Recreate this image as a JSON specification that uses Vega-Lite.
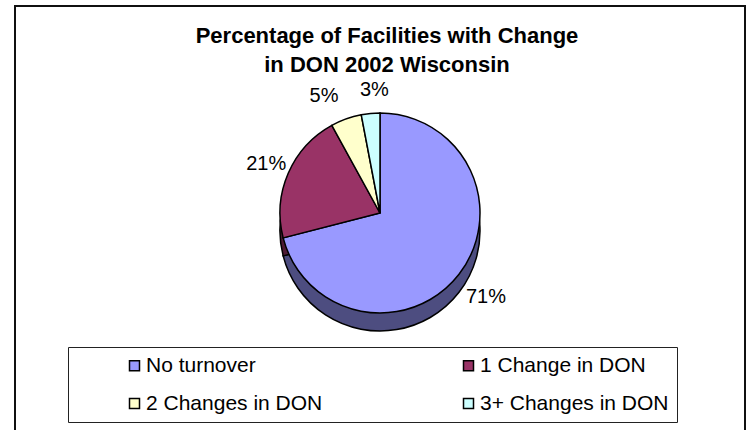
{
  "$schema": "https://vega.github.io/schema/vega-lite/v6.json",
  "width": 730,
  "height": 434,
  "autosize": {"type": "none"},
  "padding": {"left": 15, "top": 6, "right": 8, "bottom": -10},
  "background": "white",
  "config": {"font": "Liberation Sans"},
  "view": {"stroke": "#111", "strokeWidth": 1.5},
  "title": {
    "text": ["Percentage of Facilities with Change", "in DON 2002 Wisconsin"],
    "font": "Liberation Sans",
    "fontSize": 22,
    "fontWeight": "bold",
    "color": "#000",
    "anchor": "middle",
    "frame": "group",
    "baseline": "alphabetic",
    "offset": -89,
    "lineHeight": 29,
    "dx": 7
  },
  "data": {
    "values": [
      {"category": "No turnover", "share": 0.71, "order": 1},
      {"category": "1 Change in DON", "share": 0.21, "order": 2},
      {"category": "2 Changes in DON", "share": 0.05, "order": 3},
      {"category": "3+ Changes in DON", "share": 0.03, "order": 4}
    ]
  },
  "layer": [
    {
      "mark": {"type": "rect", "fill": null, "fillOpacity": 0, "stroke": "#111", "strokeWidth": 1.5},
      "encoding": {}
    },
    {
      "mark": {"type": "arc", "radius": 100, "yOffset": 8, "stroke": "#000", "strokeWidth": 1.5},
      "encoding": {
        "theta": {"field": "share", "type": "quantitative", "stack": true},
        "order": {"field": "order", "type": "quantitative"},
        "color": {
          "field": "category",
          "type": "nominal",
          "scale": {
            "domain": ["No turnover", "1 Change in DON", "2 Changes in DON", "3+ Changes in DON"],
            "range": ["#4D4D80", "#4D1A33", "#808066", "#668080"]
          },
          "legend": null
        }
      }
    },
    {
      "mark": {"type": "arc", "radius": 100, "yOffset": -10, "stroke": "#000", "strokeWidth": 1.5},
      "encoding": {
        "theta": {"field": "share", "type": "quantitative", "stack": true},
        "order": {"field": "order", "type": "quantitative"},
        "color": {
          "field": "category",
          "type": "nominal",
          "scale": {
            "domain": ["No turnover", "1 Change in DON", "2 Changes in DON", "3+ Changes in DON"],
            "range": ["#9999FF", "#993366", "#FFFFCC", "#CCFFFF"]
          },
          "legend": {
            "orient": "none",
            "legendX": 53,
            "legendY": 341,
            "direction": "horizontal",
            "columns": 2,
            "columnPadding": 135,
            "rowPadding": 16,
            "padding": 8,
            "fillColor": "#fff",
            "strokeColor": "#222",
            "title": " ",
            "titleOrient": "left",
            "titleFontSize": 1,
            "titlePadding": 48,
            "symbolType": "square",
            "symbolSize": 100,
            "symbolStrokeColor": "#000",
            "symbolStrokeWidth": 1.5,
            "symbolOpacity": 1,
            "labelFont": "Liberation Sans",
            "labelFontSize": 21,
            "labelColor": "#000",
            "labelOffset": 1,
            "labelLimit": 500
          }
        }
      }
    },
    {
      "mark": {
        "type": "text",
        "radius": 124,
        "yOffset": -10,
        "font": "Liberation Sans",
        "fontSize": 20,
        "color": "#000",
        "dx": {"expr": "datum.order == 3 ? -14 : datum.order == 4 ? 6 : datum.order == 1 ? 8 : 0"},
        "dy": {"expr": "datum.order == 1 ? 8 : 0"}
      },
      "encoding": {
        "theta": {"field": "share", "type": "quantitative", "stack": true},
        "order": {"field": "order", "type": "quantitative"},
        "text": {"field": "share", "type": "quantitative", "format": ".0%"}
      }
    }
  ],
  "resolve": {"scale": {"color": "independent"}}
}
